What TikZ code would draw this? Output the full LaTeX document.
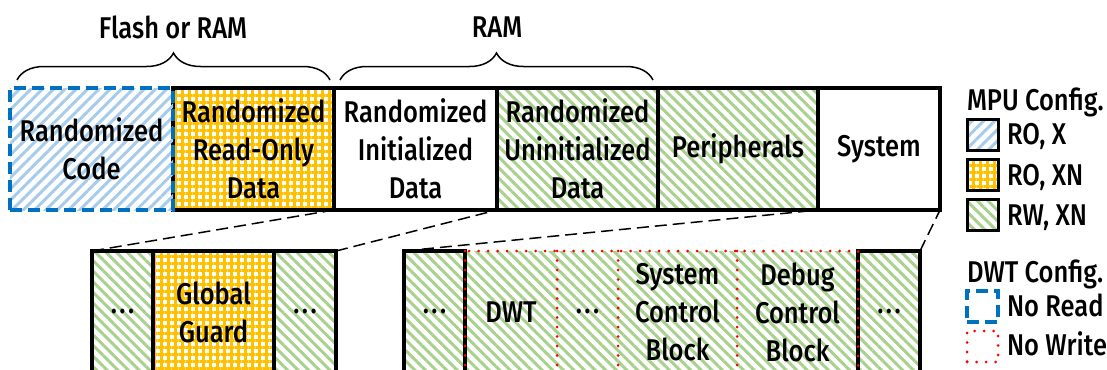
\documentclass[tikz,border=0pt]{standalone}
\usepackage{fontspec}
\setmainfont{Fira Sans Medium}[FakeStretch=0.85]
\usetikzlibrary{patterns.meta,decorations.pathreplacing}

\definecolor{dwtblue}{HTML}{0070C0}
\definecolor{hatchblue}{HTML}{A7CBEA}
\definecolor{hatchgreen}{HTML}{A9D18E}
\definecolor{gold}{HTML}{FFC000}
\definecolor{dotred}{HTML}{FF0000}

% spaced three dots for elided regions
\newcommand{\elided}{.\kern2.5pt.\kern2.5pt.}

\begin{document}
\begin{tikzpicture}[x=1pt,y=-1pt,
  every node/.style={inner sep=0pt, outer sep=0pt, align=center,
    font=\fontsize{30}{38}\selectfont},
  region/.style={minimum height=122pt},
  rox/.style={pattern={Lines[angle=45,distance=8pt,line width=3pt]},
    pattern color=hatchblue},
  roxn/.style={pattern={Hatch[distance=7pt,line width=3pt]},
    pattern color=gold},
  rwxn/.style={pattern={Lines[angle=-45,distance=7.5pt,line width=3pt]},
    pattern color=hatchgreen},
  solidbox/.style={draw=black, line width=3.5pt},
  noread/.style={draw=dwtblue, line width=3.5pt, dash pattern=on 12pt off 6pt},
  nowrite/.style={draw=dotred, line width=3pt, line cap=round,
    dash pattern=on 0pt off 9.5pt},
  zoomline/.style={draw=black, line width=1.5pt, dash pattern=on 12pt off 6pt},
  span/.style={draw=black, line width=1.5pt, decorate,
    decoration={brace, amplitude=27pt}},
  swatch/.style={minimum width=31pt, minimum height=31pt, draw=black,
    line width=3pt},
  keylabel/.style={anchor=base west},
]
\clip (0,0) rectangle (1107,369);

% memory map, top row
\node[region, solidbox, roxn, minimum width=161pt] (ro) at (253.5,149)
  {Randomized\\Read-Only\\Data};
\node[region, solidbox, minimum width=163pt] (init) at (415.5,149)
  {Randomized\\Initialized\\Data};
\node[region, solidbox, rwxn, minimum width=161pt] (uninit) at (577.5,149)
  {Randomized\\Uninitialized\\Data};
\node[region, solidbox, rwxn, minimum width=160pt] (periph) at (738,149)
  {Peripherals};
\node[region, solidbox, minimum width=122pt] (sys) at (879,149) {System};
\node[region, noread, rox, minimum width=163pt] (code) at (91.5,149)
  {Randomized\\Code};

% braces over the storage kinds
\coordinate (fl) at (17,80);
\coordinate (fr) at (330,80);
\coordinate (rl) at (340,80);
\coordinate (rr) at (653,80);
\draw[span] (fl) -- (fr);
\draw[span] (rl) -- (rr);
\node (flash) at (173,27) {Flash or RAM};
\node (ram) at (497,27) {RAM};

% detail of the initialized data
\node[region, solidbox, rwxn, minimum width=61pt] (lg1) at (122.5,312) {\elided};
\node[region, solidbox, roxn, minimum width=121pt] (lg2) at (213.5,312)
  {Global\\Guard};
\node[region, solidbox, rwxn, minimum width=62pt] (lg3) at (305,312) {\elided};
\draw[zoomline] (lg1.north west) -- (init.south west);
\draw[zoomline] (lg3.north east) -- (init.south east);

% detail of the system region
\node[region, rwxn, minimum width=92pt] (rg2) at (511,312) {DWT};
\node[region, rwxn, minimum width=61pt] (rg3) at (587.5,312) {\elided};
\node[region, rwxn, minimum width=119pt] (rg4) at (677.5,312)
  {System\\Control\\Block};
\node[region, rwxn, minimum width=121pt] (rg5) at (797.5,312)
  {Debug\\Control\\Block};
\node[region, solidbox, rwxn, minimum width=61pt] (rg1) at (434.5,312) {\elided};
\node[region, solidbox, rwxn, minimum width=62pt] (rg6) at (889,312) {\elided};
\draw[nowrite] (rg2.north west) rectangle (rg5.south east);
\draw[nowrite] (rg3.north west) -- (rg3.south west);
\draw[nowrite] (rg4.north west) -- (rg4.south west);
\draw[nowrite] (rg5.north west) -- (rg5.south west);
\draw[zoomline] (rg1.north west) -- (sys.south west);
\draw[zoomline] (rg6.north east) -- (sys.south east);

% legend
\node[keylabel] (mpu) at (967,110) {MPU Config.};
\node[swatch, rox] (kx) at (982.5,134.5) {};
\node[swatch, roxn] (kxn) at (982.5,174.5) {};
\node[swatch, rwxn] (kw) at (982.5,214.5) {};
\node[keylabel] (kxl) at (1007,144) {RO, X};
\node[keylabel] (kxnl) at (1007,185) {RO, XN};
\node[keylabel] (kwl) at (1007,225) {RW, XN};

\node[keylabel] (dwt) at (967,282) {DWT Config.};
\node[minimum width=31pt, minimum height=31pt, noread] (knr) at (982.5,306.5) {};
\node[minimum width=31pt, minimum height=31pt, nowrite] (knw) at (982.5,346.5) {};
\node[keylabel] (knrl) at (1007,316) {No Read};
\node[keylabel] (knwl) at (1007,355) {No Write};
\end{tikzpicture}
\end{document}
